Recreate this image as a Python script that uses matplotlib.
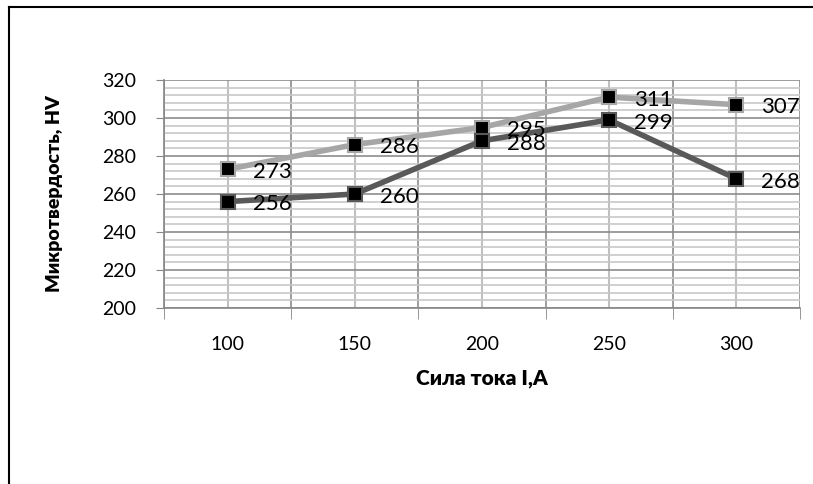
import matplotlib.pyplot as plt
from matplotlib.lines import Line2D
import numpy as np

plt.rcParams['font.family'] = ['Lato', 'Open Sans', 'DejaVu Sans']

currents = ['100', '150', '200', '250', '300']
hv_light = [273, 286, 295, 311, 307]
hv_dark = [256, 260, 288, 299, 268]

fig = plt.figure(figsize=(8.13, 4.84), dpi=100)
ax = fig.add_axes([164 / 813, 1 - 308 / 484, 636 / 813, 228 / 484])

x = np.arange(len(currents))

ax.plot(x, hv_light, color='#a6a6a6', lw=4, marker='s', ms=10,
        mfc='black', mec='#a6a6a6', mew=1.5, zorder=3)
ax.plot(x, hv_dark, color='#595959', lw=4, marker='s', ms=10,
        mfc='black', mec='#595959', mew=1.5, zorder=4)

for xi, v in zip(x, hv_light):
    ax.annotate(str(v), (xi, v), xytext=(18, -2), textcoords='offset points',
                ha='left', va='center', fontsize=16, zorder=5)
for xi, v in zip(x, hv_dark):
    ax.annotate(str(v), (xi, v), xytext=(18, -2), textcoords='offset points',
                ha='left', va='center', fontsize=16, zorder=5)

ax.set_xlim(-0.5, len(currents) - 0.5)
ax.set_ylim(200, 320)

ax.set_xticks(x)
ax.set_xticklabels(currents, fontsize=14)
ax.set_xticks(np.arange(-0.5, len(currents)), minor=True)
ax.set_yticks(np.arange(200, 321, 20))
ax.set_yticks(np.arange(200, 321, 4), minor=True)
ax.tick_params(axis='y', labelsize=14, length=6, color='#868686', pad=14)
ax.tick_params(axis='x', which='major', length=0, pad=20)
ax.tick_params(axis='x', which='minor', length=8, color='#868686')
ax.tick_params(axis='y', which='minor', length=0)

ax.grid(True, axis='x', which='major', color='#c0c0c0', lw=1.5)
ax.grid(True, axis='x', which='minor', color='#8c8c8c', lw=1.2)
ax.grid(True, axis='y', which='minor', color='#c8c8c8', lw=1.2)
ax.grid(True, axis='y', which='major', color='#8c8c8c', lw=1.2)
ax.set_axisbelow(True)

for s in ['top', 'right']:
    ax.spines[s].set_visible(False)
for s in ['left', 'bottom']:
    ax.spines[s].set_color('#868686')
    ax.spines[s].set_linewidth(1.2)

ax.set_xlabel('Сила тока I,А', fontsize=15, fontweight='heavy', labelpad=12)
ax.set_ylabel('Микротвердость, HV', fontsize=14, fontweight='heavy', labelpad=28)

# outer chart border (left and top visible)
fig.add_artist(Line2D([9 / 813, 9 / 813], [0, 1 - 7 / 484], color='black', lw=1.5,
                      transform=fig.transFigure))
fig.add_artist(Line2D([9 / 813, 1], [1 - 7 / 484, 1 - 7 / 484], color='black', lw=1.5,
                      transform=fig.transFigure))

fig.savefig('out.png', dpi=100)
